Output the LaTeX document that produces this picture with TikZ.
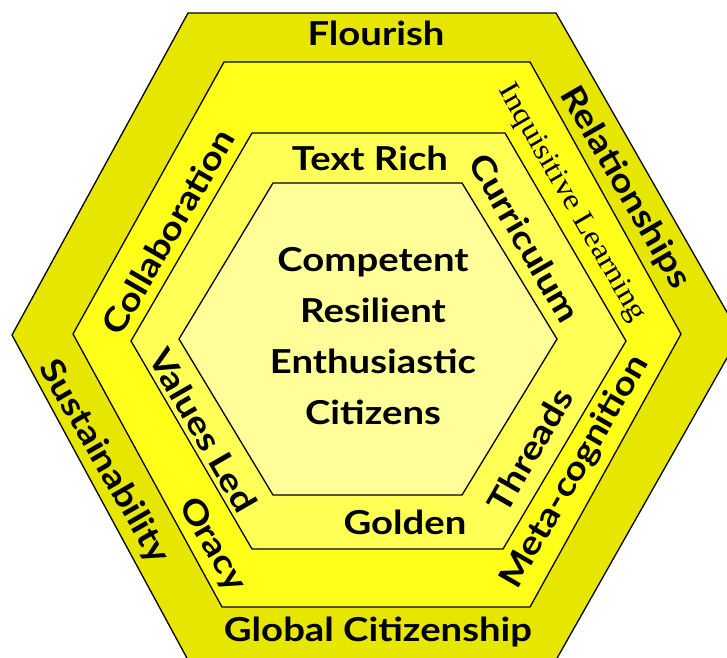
\documentclass[tikz,border=0pt]{standalone}
\usepackage{fontspec}
\newfontfamily\handfont{Lato}[FakeStretch=1.16]
\newfontfamily\thinfont{Liberation Serif}[FakeStretch=1.12]
\definecolor{ringA}{HTML}{E6E600}
\definecolor{ringB}{HTML}{FFFF1A}
\definecolor{ringC}{HTML}{FFFF55}
\definecolor{ringD}{HTML}{FFFF99}
\begin{document}
\begin{tikzpicture}[x=1pt,y=-1pt,
  ring/.style={draw=black,line width=1.3pt,line join=miter},
  lbl/.style={font=\handfont\bfseries\fontsize{33}{34}\selectfont,inner sep=0pt,text=black},
  lblsmall/.style={font=\thinfont\fontsize{29.5}{30}\selectfont,inner sep=0pt,text=black}]
\useasboundingbox (0,0) rectangle (727,657);
\clip (0,0) rectangle (727,657);

% four nested hexagonal rings, outermost first
\draw[ring,fill=ringA] (188,13) -- (556,13) -- (740,335) -- (556,660) -- (188,660) -- (12,335) -- cycle;
\draw[ring,fill=ringB] (224,62) -- (530,62) -- (681,334) -- (530,607) -- (222,607) -- (73,334) -- cycle;
\draw[ring,fill=ringC] (252,133) -- (505,133) -- (626,341) -- (503,549) -- (252,549) -- (131,341) -- cycle;
\draw[ring,fill=ringD] (273,183) -- (462,183) -- (557,339) -- (462,495) -- (273,495) -- (179,339) -- cycle;

% outer ring
\node[lbl] (flourish) at (376,33) {Flourish};
\node[lbl,rotate=-60] (relations) at (625,188) {Relationships};
\node[lbl,rotate=60] (meta) at (575,472) {Meta-cognition};
\node[lbl] (global) at (378,632) {Global Citizenship};
\node[lbl,rotate=-60] (sustain) at (104,462) {Sustainability};
\node[lbl,rotate=60] (collab) at (168,232) {Collaboration};

% second ring
\node[lblsmall,rotate=-60] (inquiry) at (571,203) {Inquisitive Learning};
\node[lbl,rotate=-60] (oracy) at (212,545) {Oracy};

% third ring
\node[lbl] (textrich) at (370,158) {Text Rich};
\node[lbl,rotate=-60] (curric) at (525,238) {Curriculum};
\node[lbl,rotate=-60] (values) at (203,430) {Values Led};
\node[lbl,rotate=60] (threads) at (530,450) {Threads};
\node[lbl] (golden) at (405,522) {Golden};

% centre
\node[lbl,align=center,font=\handfont\bfseries\fontsize{33}{51}\selectfont] (core) at (373,336)
  {Competent\\Resilient\\Enthusiastic\\Citizens};
\end{tikzpicture}
\end{document}
